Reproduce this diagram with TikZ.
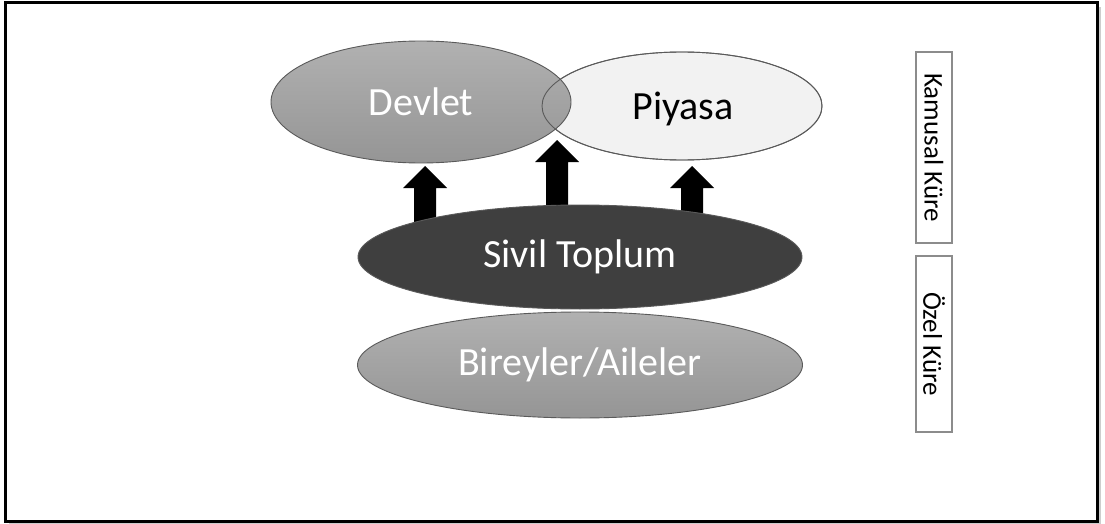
\documentclass[tikz,border=0pt]{standalone}
\usepackage{fontspec}
\setmainfont{Carlito}
\usetikzlibrary{shapes.geometric}
\definecolor{frameshadow}{HTML}{9A9A9A}
\definecolor{stategrey}{HTML}{A3A3A3}
\definecolor{stategreydark}{HTML}{959595}
\definecolor{marketfill}{HTML}{F2F2F2}
\definecolor{civilfill}{HTML}{3F3F3F}
\definecolor{edgegrey}{HTML}{5A5A5A}
\definecolor{boxedge}{HTML}{8C8C8C}
\tikzset{
  sphere/.style={ellipse, inner sep=0pt, draw=edgegrey, line width=0.9pt},
  greysphere/.style={sphere, top color=stategrey!85!white, bottom color=stategreydark},
  bigtext/.style={font=\fontsize{40}{44}\selectfont},
  uparrow/.style={fill=black, draw=none},
  labelbox/.style={draw=boxedge, line width=1.2pt, fill=white, inner sep=0pt},
  boxtext/.style={font=\fontsize{27}{30}\selectfont, rotate=-90, text=black}
}
% block arrow pointing up: centre x, bottom y, tip y
\newcommand{\blockup}[3]{%
  \fill[uparrow] (#1-11,#2) -- (#1-11,#3+22) -- (#1-22,#3+22) -- (#1,#3)
    -- (#1+22,#3+22) -- (#1+11,#3+22) -- (#1+11,#2) -- cycle;}
\begin{document}
\begin{tikzpicture}[x=1pt,y=-1pt]
\useasboundingbox (0,0) rectangle (1105,524);
\fill[white] (0,0) rectangle (1105,524);
% outer frame with a soft shadow
\fill[frameshadow!50] (9,7) rectangle (1101,525);
\draw[line width=3pt, fill=white] (5,3) rectangle (1097,521);

% arrows from civil society up to state and market
\blockup{425}{225}{166}
\blockup{557}{225}{140}
\blockup{692}{225}{166}

% public sphere: state and market
\node[sphere, fill=marketfill, minimum width=280pt, minimum height=108pt] (market) at (682,106) {};
\node[greysphere, minimum width=300pt, minimum height=122pt,
      text=white, bigtext] (state) at (421,102) {Devlet};
\draw[edgegrey, line width=0.9pt] (682,106) ellipse [x radius=140, y radius=54];
\node[bigtext, text=black] (marketlabel) at (683,109) {Piyasa};

% civil society and individuals
\node[sphere, fill=civilfill, minimum width=444pt, minimum height=104pt,
      text=white, bigtext] (civil) at (580,257) {Sivil Toplum};
\node[greysphere, minimum width=445pt, minimum height=106pt,
      text=white, bigtext] (family) at (580,365) {Bireyler/Aileler};

% sphere labels
\node[labelbox, minimum width=36pt, minimum height=191pt] (publicbox) at (934,147.5) {};
\node[boxtext] (publictext) at (publicbox.center) {Kamusal Küre};
\node[labelbox, minimum width=36pt, minimum height=176pt] (privatebox) at (934,344) {};
\node[boxtext] (privatetext) at (privatebox.center) {Özel Küre};
\end{tikzpicture}
\end{document}
